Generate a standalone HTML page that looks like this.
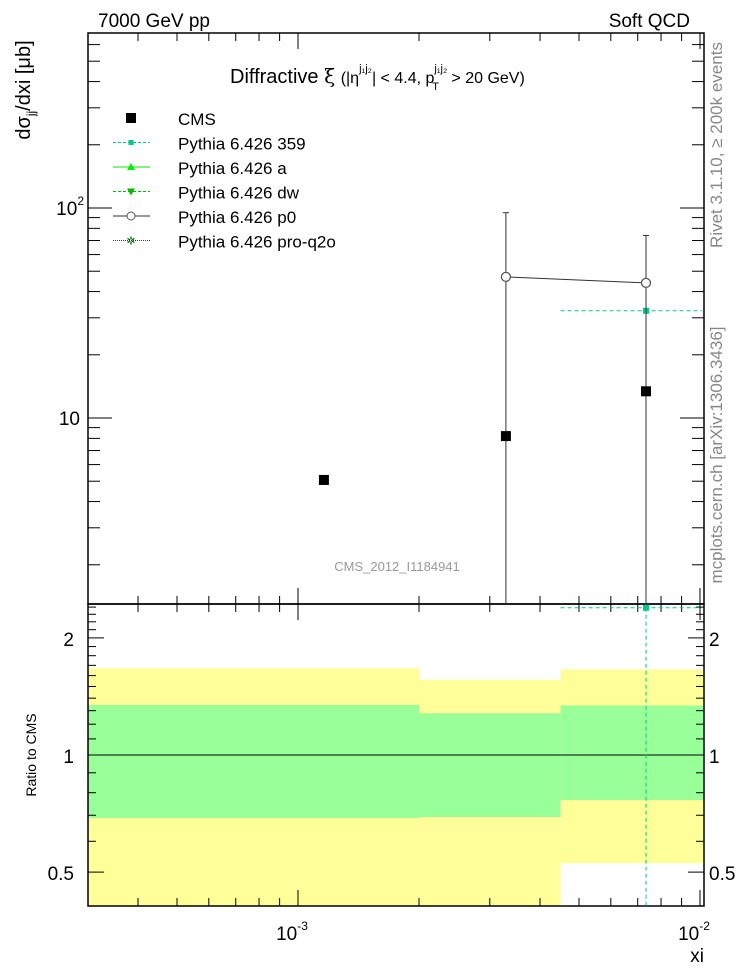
<!DOCTYPE html>
<html><head><meta charset="utf-8"><style>
body{margin:0;background:#fff}
svg{display:block;font-family:"Liberation Sans",sans-serif}
</style></head><body>
<svg id="c" width="746" height="972" viewBox="0 0 746 972">
<text x="98" y="27" font-size="19">7000 GeV pp</text>
<text x="690" y="27" font-size="19" text-anchor="end">Soft QCD</text>
<text x="230" y="83" font-size="20">Diffractive <tspan font-family="DejaVu Serif">ξ</tspan> <tspan font-size="16">(|η</tspan><tspan font-size="11" dy="-11">j₁j₂</tspan><tspan font-size="16" dy="11">| &lt; 4.4, p</tspan><tspan font-size="11" dy="-11">j₁j₂</tspan><tspan font-size="11" dx="-15" dy="18">T</tspan><tspan font-size="16" dy="-7" dx="8"> &gt; 20 GeV)</tspan></text>
<text transform="translate(30,90) rotate(-90)" font-size="20" text-anchor="middle">dσ<tspan font-size="12" dy="5">jj</tspan><tspan dy="-5">/dxi [μb]</tspan></text>
<text transform="translate(722,145) rotate(-90)" font-size="17" fill="#888" text-anchor="middle">Rivet 3.1.10, ≥ 200k events</text>
<text transform="translate(722,455) rotate(-90)" font-size="17" fill="#888" text-anchor="middle">mcplots.cern.ch [arXiv:1306.3436]</text>
<text x="397" y="571" font-size="13" fill="#999" text-anchor="middle">CMS_2012_I1184941</text>
<text transform="translate(36,755) rotate(-90)" font-size="14" text-anchor="middle">Ratio to CMS</text>
<text x="704" y="962" font-size="19" text-anchor="end">xi</text>
<g id="g"></g>
</svg>
<script>
const binEdges=[3.0e-4,2.0e-3,4.5e-3,1.02e-2];
const cmsX=[1.16e-3,3.29e-3,7.34e-3];
const cmsY=[5.07,8.2,13.4];
const p0X=[3.29e-3,7.34e-3];
const p0Y=[47,44];
const p0ErrUp=[95,74];
const p359X=[7.34e-3];
const p359Y=[32.4];
const yellowHi=[1.67,1.56,1.66];
const yellowLo=[0.3,0.3,0.527];
const greenHi=[1.345,1.28,1.34];
const greenLo=[0.689,0.693,0.766];
const ratio359=[2.39];
const yTickLabels=[["10",2],["10",1]];
const rTicks=[2,1,0.5];

const L=88,R=704,T=33,M=604,B=906;
const sx=v=>298+(Math.log10(v)+3)*402;
const sy=v=>418-(Math.log10(v)-1)*210;
const sr=v=>755-389*Math.log10(v);
const g=document.getElementById('g');
const NS='http://www.w3.org/2000/svg';
function el(t,a){const e=document.createElementNS(NS,t);for(const k in a)e.setAttribute(k,a[k]);g.appendChild(e);return e;}
const clampM=y=>Math.max(T,Math.min(M,y)), clampR=y=>Math.max(M,Math.min(B,y));
for(let i=0;i<3;i++){
 const x0=sx(binEdges[i]),x1=Math.min(sx(binEdges[i+1]),R-1);
 let e=el('rect',{x:x0,y:clampR(sr(yellowHi[i])),width:x1-x0,height:clampR(sr(yellowLo[i]))-clampR(sr(yellowHi[i])),fill:'#ffff99'});
 
 
 e=el('rect',{x:x0,y:sr(greenHi[i]),width:x1-x0,height:sr(greenLo[i])-sr(greenHi[i]),fill:'#99ff99'});
 
 
}
let e=el('line',{x1:L,x2:R,y1:sr(1),y2:sr(1),stroke:'#000','stroke-width':1});


e=el('rect',{x:L,y:T,width:R-L,height:M-T,fill:'none',stroke:'#000','stroke-width':1.5});


e=el('rect',{x:L,y:M,width:R-L,height:B-M,fill:'none',stroke:'#000','stroke-width':1.5});


for(let d=-4;d<=-2;d++)for(let m=1;m<10;m++){const v=m*Math.pow(10,d);const x=sx(v);if(x<L||x>R)continue;const len=m==1?16:8;
 for(const [y0,dir] of [[T,1],[M,-1],[M,1],[B,-1]]){e=el('line',{x1:x,x2:x,y1:y0,y2:y0+dir*len,stroke:'#000'});
 
 }}
[["-3",1e-3],["-2",1e-2]].forEach(([p,v])=>{const t=el('text',{x:sx(v)-6,y:940,'font-size':19,'text-anchor':'middle'});t.innerHTML='10<tspan font-size="12" dy="-10">'+p+'</tspan>';
 
 });
for(let d=0;d<=2;d++)for(let m=1;m<10;m++){const v=m*Math.pow(10,d);const y=sy(v);if(y<T||y>M)continue;const len=m==1?24:12;
 for(const [x0,dir] of [[L,1],[R,-1]]){e=el('line',{x1:x0,x2:x0+dir*len,y1:y,y2:y,stroke:'#000'});
 
 }}
yTickLabels.forEach(([b,p])=>{const t=el('text',{x:p==2?84:80,y:sy(Math.pow(10,p))+7,'font-size':19,'text-anchor':'end'});t.innerHTML=p==2?'10<tspan font-size="12" dy="-10">2</tspan>':'10';
 
 });
for(let v=0.4;v<=2.45;v+=0.1){const y=sr(v);if(y<M||y>B)continue;const major=[0.5,1,2].some(q=>Math.abs(q-v)<1e-6);const len=major?16:8;
 for(const [x0,dir] of [[L,1],[R,-1]]){e=el('line',{x1:x0,x2:x0+dir*len,y1:y,y2:y,stroke:'#000'});
 
 }}
rTicks.forEach(v=>{for(const [x,a] of [[74,'end'],[709,'start']]){const t=el('text',{x:x,y:sr(v)+8,'font-size':19,'text-anchor':a});t.textContent=String(v);
 
 }});
const c359='#00cc88';
p359X.forEach((xv,i)=>{const y=sy(p359Y[i]),x=sx(xv);
 e=el('line',{x1:sx(binEdges[2]),x2:R-2,y1:y,y2:y,stroke:c359,'stroke-dasharray':'4,3'});
 
 
 e=el('line',{x1:x,x2:x,y1:y,y2:M,stroke:c359,'stroke-dasharray':'4,3'});
 
 
 e=el('rect',{x:x-3,y:y-3,width:6,height:6,fill:c359});
 
 
 const yr=clampR(sr(ratio359[i]));
 e=el('line',{x1:sx(binEdges[2]),x2:R-2,y1:yr,y2:yr,stroke:c359,'stroke-dasharray':'4,3'});
 
 
 e=el('line',{x1:x,x2:x,y1:yr,y2:B,stroke:c359,'stroke-dasharray':'4,3'});
 
 
 e=el('rect',{x:x-3,y:yr-3,width:6,height:6,fill:c359});
 
 
});
e=el('polyline',{points:p0X.map((x,i)=>sx(x)+','+sy(p0Y[i])).join(' '),fill:'none',stroke:'#333'});


p0X.forEach((xv,i)=>{const x=sx(xv);
 e=el('line',{x1:x,x2:x,y1:sy(p0ErrUp[i]),y2:M,stroke:'#333'});
 
 
 e=el('line',{x1:x-3,x2:x+3,y1:sy(p0ErrUp[i]),y2:sy(p0ErrUp[i]),stroke:'#333'});
 
 
 e=el('circle',{cx:x,cy:sy(p0Y[i]),r:4.5,fill:'#fff',stroke:'#555','stroke-width':1.3});
 
 
});
cmsX.forEach((xv,i)=>{e=el('rect',{x:sx(xv)-5,y:sy(cmsY[i])-5,width:10,height:10,fill:'#000'});
 
 });
const leg=[['CMS'],['Pythia 6.426 359'],['Pythia 6.426 a'],['Pythia 6.426 dw'],['Pythia 6.426 p0'],['Pythia 6.426 pro-q2o']];
leg.forEach((l,i)=>{const y=118+i*24.5;
 const t=el('text',{x:178,y:y+7,'font-size':17});t.textContent=l[0];
 
 
 const cx=131;
 if(i==0){e=el('rect',{x:cx-5,y:y-5,width:10,height:10,fill:'#000'});}
 else{const col=['', '#00cc88','#00ee00','#00bb00','#333','#006600'][i];const dash=[,'3,2',null,'3,2',null,'1,1'][i];
  e=el('line',{x1:113,x2:150,y1:y,y2:y,stroke:col});if(dash)e.setAttribute('stroke-dasharray',dash);
  
  
  if(i==1)e=el('rect',{x:cx-2.5,y:y-2.5,width:5,height:5,fill:col});
  else if(i==2)e=el('polygon',{points:`${cx-4},${y+3} ${cx+4},${y+3} ${cx},${y-4}`,fill:col});
  else if(i==3)e=el('polygon',{points:`${cx-4},${y-3} ${cx+4},${y-3} ${cx},${y+4}`,fill:col});
  else if(i==4)e=el('circle',{cx:cx,cy:y,r:4,fill:'#fff',stroke:'#555'});
  else e=el('text',{x:cx,y:y+4,'font-size':11,'text-anchor':'middle',fill:col});
  if(i==5)e.textContent='✲';}
 
 
});
</script>
</body></html>
